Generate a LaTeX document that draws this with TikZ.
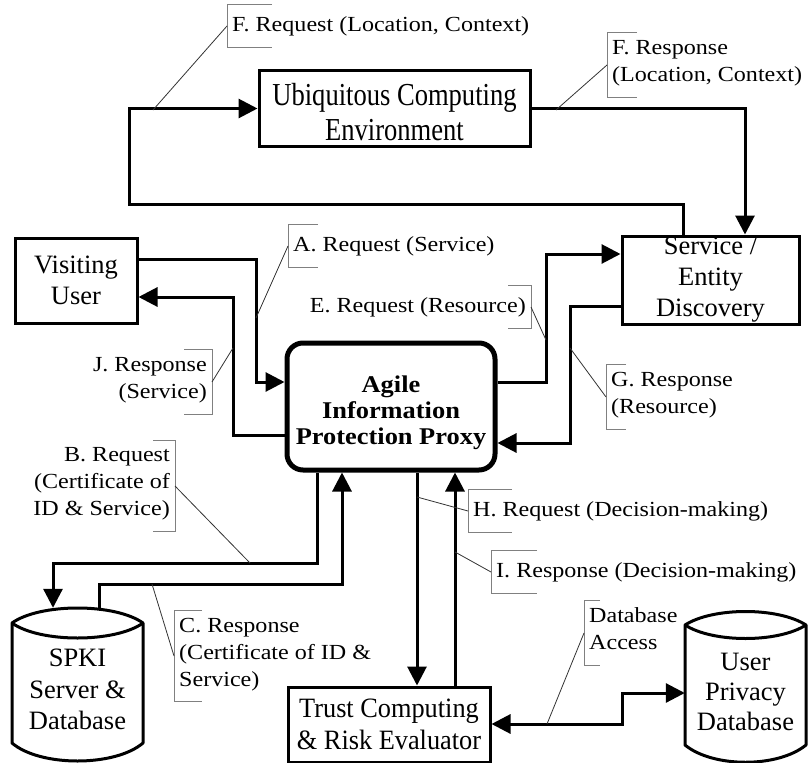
\documentclass[tikz,border=0pt]{standalone}
\usepackage{fontspec}
\setmainfont{Liberation Serif}
\newfontfamily\notefont[FakeStretch=1.12]{Liberation Serif}
\newfontfamily\tallfont[FakeStretch=0.83]{Liberation Serif}
\newfontfamily\trustfont[FakeStretch=0.94]{Liberation Serif}
\newfontfamily\proxyfont[FakeStretch=1.1]{Liberation Serif}
\usetikzlibrary{arrows.meta}

% brackets of the annotation callouts
\newcommand\annoL[2]{\draw[brk] ([xshift=#2pt]#1.north west) -- (#1.north west) -- (#1.south west) -- ([xshift=#2pt]#1.south west);}
\newcommand\annoR[2]{\draw[brk] ([xshift=-#2pt]#1.north east) -- (#1.north east) -- (#1.south east) -- ([xshift=-#2pt]#1.south east);}

\tikzset{
  box/.style={draw, line width=3pt, inner sep=0pt, align=center,
              font=\fontsize{26.5}{31}\selectfont},
  proxybox/.style={draw, line width=5pt, rounded corners=16pt, inner sep=0pt, align=center,
              font=\proxyfont\bfseries\fontsize{24}{26}\selectfont},
  cyl/.style={inner sep=0pt, align=center},
  cylline/.style={line width=3pt, line join=round},
  conn/.style={line width=3pt, -{Triangle[length=19pt,width=19pt]}},
  conntwo/.style={line width=3pt, {Triangle[length=19pt,width=19pt]}-{Triangle[length=19pt,width=19pt]}},
  lead/.style={line width=0.8pt, black!80},
  brk/.style={line width=0.8pt, black!50},
  note/.style={font=\notefont\fontsize{21.5}{27}\selectfont, inner xsep=5pt, inner ysep=7.5pt,
               execute at begin node=\strut, execute at end node=\strut},
}

\begin{document}
\begin{tikzpicture}[x=1pt, y=-1pt]
\useasboundingbox (0,0) rectangle (809,763);

% ---- blocks ----
\node[box, minimum width=271pt, minimum height=76pt, font=\tallfont\fontsize{32}{35}\selectfont] (uce) at (394.5,108.5)
  {\rule{0pt}{29pt}Ubiquitous Computing\\Environment};
\node[box, minimum width=177pt, minimum height=88pt] (sed) at (710.5,280) {Service /\\Entity\\Discovery};
\node[box, minimum width=122pt, minimum height=85pt] (vu) at (76,280.5) {Visiting\\User};
\node[proxybox, minimum width=208pt, minimum height=127pt] (proxy) at (391,406.5)
  {\rule{0pt}{29.5pt}Agile\\Information\\Protection Proxy};
\node[box, minimum width=202pt, minimum height=75pt, font=\trustfont\fontsize{28}{32.5}\selectfont] (trust) at (389,724.5)
  {Trust Computing\\\& Risk Evaluator};

% ---- databases ----
\draw[cylline] (12,623) .. controls (40,603) and (115,603) .. (143,623) -- (143,743)
   .. controls (115,767) and (40,767) .. (12,743) -- cycle;
\draw[cylline] (12,623) .. controls (40,643) and (115,643) .. (143,623);
\node[cyl, minimum width=131pt, minimum height=163pt, font=\fontsize{26.5}{31.5}\selectfont] (spki) at (77.5,689.5) {SPKI\\Server \&\\Database};

\draw[cylline] (685,625) .. controls (713,607) and (778,607) .. (806,625) -- (806,745)
   .. controls (778,768) and (713,768) .. (685,745) -- cycle;
\draw[cylline] (685,625) .. controls (713,643) and (778,643) .. (806,625);
\node[cyl, minimum width=121pt, minimum height=160pt, font=\fontsize{26.5}{30}\selectfont] (upd) at (745.5,692) {User\\Privacy\\Database};

% ---- message flows ----
\draw[conn] (sed.north -| 683,0) |- (129,204) |- (uce.west);
\draw[conn] (uce.east) -| (sed.north -| 745,0);
\draw[conn] (vu.east |- 0,259) -| (256,382) -- (proxy.west |- 0,382);
\draw[conn] (proxy.west |- 0,435) -| (233,297) -- (vu.east |- 0,297);
\draw[conn] (proxy.east |- 0,382) -| (546,254) -- (sed.west |- 0,254);
\draw[conn] (sed.west |- 0,306) -| (570,443) -- (proxy.east |- 0,443);
\draw[conn] (proxy.south -| 317,0) |- (53,563) -- (spki.north -| 53,0);
\draw[conn] (99,609) |- (342,584) -- (proxy.south -| 342,0);
\draw[conn] (proxy.south -| 417,0) -- (trust.north -| 417,0);
\draw[conn] (trust.north -| 455,0) -- (proxy.south -| 455,0);
\draw[conntwo] (trust.east |- 0,724) -| (622,693) -- (upd.west |- 0,693);

% ---- points on the flows picked up by the callouts ----
\coordinate (pF1) at (153,110);
\coordinate (pF2) at (556,110);
\coordinate (pA) at (256,318);
\coordinate (pJ) at (233,348);
\coordinate (pE) at (546,340);
\coordinate (pG) at (570,348);
\coordinate (pB) at (250,563);
\coordinate (pC) at (152,584);
\coordinate (pH) at (417,497);
\coordinate (pI) at (455,552);
\coordinate (pD) at (547,724);

% ---- callouts ----
\node[note, anchor=west, align=left] (fq) at (227,26) {F. Request (Location, Context)};
\node[note, anchor=west, align=left] (fr) at (607,65) {F. Response\\(Location, Context)};
\node[note, anchor=west, align=left] (aq) at (288,246) {A. Request (Service)};
\node[note, anchor=east, align=right] (jr) at (212,382) {J. Response\\(Service)};
\node[note, anchor=east, align=right] (eq) at (531,307) {E. Request (Resource)};
\node[note, anchor=west, align=left] (gr) at (606,397) {G. Response\\(Resource)};
\node[note, anchor=east, align=right] (bq) at (175,486) {B. Request\\(Certificate of\\ID \& Service)};
\node[note, anchor=west, align=left] (cr) at (174,656) {C. Response\\(Certificate of ID \&\\Service)};
\node[note, anchor=west, align=left] (hq) at (468,511) {H. Request (Decision-making)};
\node[note, anchor=west, align=left] (ir) at (491,572) {I. Response (Decision-making)};
\node[note, anchor=west, align=left] (da) at (584,633) {Database\\Access};

\annoL{fq}{45} \annoL{fr}{30} \annoL{aq}{30} \annoR{jr}{28}
\annoR{eq}{23} \annoL{gr}{20} \annoR{bq}{22} \annoL{cr}{28}
\annoL{hq}{44} \annoL{ir}{46} \annoL{da}{16}

\draw[lead] (fq.west) -- (pF1);
\draw[lead] (fr.west) -- (pF2);
\draw[lead] (aq.west) -- (pA);
\draw[lead] (jr.east) -- (pJ);
\draw[lead] (eq.east) -- (pE);
\draw[lead] (gr.west) -- (pG);
\draw[lead] (bq.east) -- (pB);
\draw[lead] (cr.west) -- (pC);
\draw[lead] (hq.west) -- (pH);
\draw[lead] (ir.west) -- (pI);
\draw[lead] (da.west) -- (pD);
\end{tikzpicture}
\end{document}
